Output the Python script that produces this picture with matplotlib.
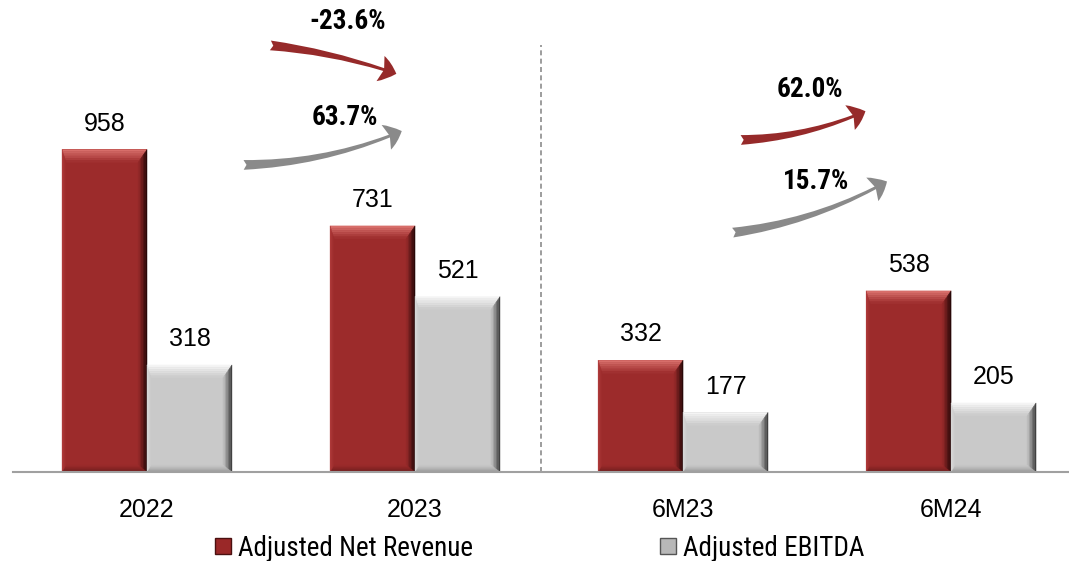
import matplotlib
matplotlib.use("Agg")
import matplotlib.pyplot as plt
from matplotlib.patches import Polygon, FancyArrowPatch, Patch
from matplotlib.colors import to_rgb
import numpy as np

# data
categories = ["2022", "2023", "6M23", "6M24"]
net_revenue = [958, 731, 332, 538]
ebitda = [318, 521, 177, 205]
growth_labels = ["-23.6%", "63.7%", "62.0%", "15.7%"]

plt.rcParams["font.family"] = ["Liberation Sans", "DejaVu Sans"]
narrow = ["Roboto Condensed", "Liberation Sans", "DejaVu Sans"]

fig = plt.figure(figsize=(10.69, 5.61), dpi=100)
ax = fig.add_axes([13 / 1069, 89 / 561, 1056 / 1069, 472 / 561])

red, gray = "#9C2B2B", "#C9C9C9"
x = np.arange(len(categories))
w = 0.317
red_bars = ax.bar(x - w / 2, net_revenue, w, color=red, linewidth=0)
gray_bars = ax.bar(x + w / 2, ebitda, w, color=gray, linewidth=0)

ax.set_xlim(-0.5, 3.44)
ax.set_ylim(0, 1402)

# pixels per data unit
sx = ax.bbox.width / (3.44 + 0.5)
sy = ax.bbox.height / 1402


def mix(c1, c2, t):
    a, b = np.array(to_rgb(c1)), np.array(to_rgb(c2))
    return tuple(a + (b - a) * t)


def bevel(p, face, top, right, left, bottom, n=6):
    # gradient bevel drawn as nested strips on the four sides
    x0, bw, h = p.get_x(), p.get_width(), p.get_height()
    bt, br, bl, bb = 13 / sy, 9 / sx, 4 / sx, 7 / sy
    for i in range(n):
        f0, f1 = i / n, (i + 1) / n
        o = (x0 + bl * f0, x0 + bw - br * f0, bb * f0, h - bt * f0)
        q = (x0 + bl * f1, x0 + bw - br * f1, bb * f1, h - bt * f1)
        t = (i + 0.5) / n
        sides = [
            ([(o[0], o[3]), (o[1], o[3]), (q[1], q[3]), (q[0], q[3])], mix(top, face, t)),
            ([(o[1], o[3]), (o[1], o[2]), (q[1], q[2]), (q[1], q[3])], mix(right, face, t)),
            ([(o[0], o[2]), (o[1], o[2]), (q[1], q[2]), (q[0], q[2])], mix(bottom, face, t)),
            ([(o[0], o[2]), (o[0], o[3]), (q[0], q[3]), (q[0], q[2])], mix(left, face, t)),
        ]
        for pts, c in sides:
            ax.add_patch(Polygon(pts, closed=True, facecolor=c, edgecolor=c,
                                 linewidth=0.3, zorder=3))


for p in red_bars:
    bevel(p, red, "#DC7470", "#1E0505", "#B23E3D", "#6A1B1B")
for p in gray_bars:
    bevel(p, gray, "#F8F8F8", "#333333", "#DEDEDE", "#979797")

# value labels
for bars, vals in [(red_bars, net_revenue), (gray_bars, ebitda)]:
    for p, v in zip(bars, vals):
        ax.annotate(str(v), (p.get_x() + p.get_width() / 2, p.get_height()),
                    xytext=(0, 10), textcoords="offset points",
                    ha="center", va="bottom", fontsize=18)

# axis styling
for s in ["top", "right", "left"]:
    ax.spines[s].set_visible(False)
ax.spines["bottom"].set_color("#A0A0A0")
ax.spines["bottom"].set_linewidth(1.5)
ax.spines["bottom"].set_zorder(4)
ax.set_yticks([])
ax.set_xticks(x)
ax.set_xticklabels(categories, fontsize=18)
ax.tick_params(axis="x", length=0, pad=19)

# separator between annual and half-year
ax.plot([1.47, 1.47], [0, 1268], color="#8C8C8C", linestyle=(0, (3, 2)), linewidth=1.2)

# growth arrows
arrows = [
    ((0.45, 1268), (0.94, 1180), "#962A2A", -0.06),
    ((0.35, 912), (0.96, 1016), "#8A8A8A", 0.1),
    ((2.205, 986), (2.69, 1075), "#962A2A", 0.1),
    ((2.175, 710), (2.77, 867), "#8A8A8A", 0.1),
]
for tail, head, c, rad in arrows:
    ax.add_patch(FancyArrowPatch(tail, head,
                                 arrowstyle="fancy,head_length=0.6,head_width=0.95,tail_width=0.35",
                                 connectionstyle=f"arc3,rad={rad}",
                                 mutation_scale=20, color=c, linewidth=0, zorder=4))

label_pos = [(0.75, 1337), (0.74, 1052), (2.475, 1135), (2.495, 862)]
for (lx, ly), t in zip(label_pos, growth_labels):
    ax.text(lx, ly, t, ha="center", va="center", fontsize=19.5, fontweight="bold", family=narrow)

# legend, one entry per series
legend_items = [
    (Patch(facecolor="#9A2828", edgecolor="#4A1010"), "Adjusted Net Revenue", 215),
    (Patch(facecolor="#B8B8B8", edgecolor="#555555"), "Adjusted EBITDA", 660),
]
for h, lab, px in legend_items:
    fig.legend([h], [lab], loc="center left", bbox_to_anchor=(px / 1069, 1 - 548 / 561),
               frameon=False, prop={"family": narrow, "size": 19.5}, borderpad=0,
               borderaxespad=0, handlelength=0.6, handleheight=0.5, handletextpad=0.25)

fig.savefig("out.png", dpi=100)
